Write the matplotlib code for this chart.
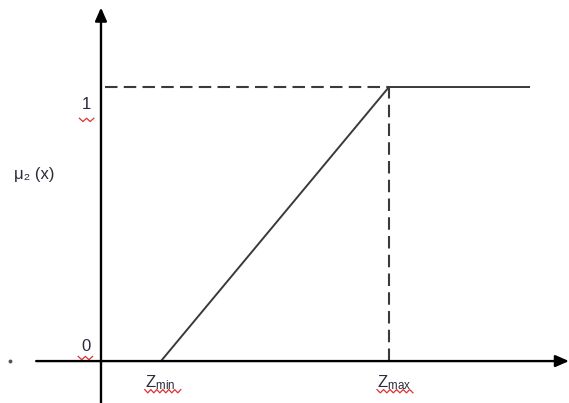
import numpy as np
import matplotlib
matplotlib.use("Agg")
import matplotlib.pyplot as plt

# membership function mu_2(x): ramp from z_min to z_max, then flat at 1
z_points = [1.0, 4.8, 7.15]
mu_points = [0.0, 1.0, 1.0]
z_labels = ["min", "max"]
y_ticks = [0, 1]

plt.rcParams["font.family"] = ["Liberation Sans", "DejaVu Sans"]

fig = plt.figure(figsize=(5.69, 4.03), dpi=100)
ax = fig.add_axes([0, 0, 1, 1])
ax.set_xlim(-1.683, 7.8)
ax.set_ylim(-0.153, 1.3175)
ax.axis("off")

axis_col = "#3a3a3a"
arrow = dict(arrowstyle="-|>,head_length=0.8,head_width=0.35", color="black",
             lw=1.7, shrinkA=0, shrinkB=0)
# axes with arrows
ax.annotate("", xy=(7.8, 0), xytext=(-1.08, 0), arrowprops=arrow)
ax.annotate("", xy=(0, 1.29), xytext=(0, -0.16), arrowprops=arrow)

z_min, z_max, z_end = z_points
# dashed guides
ax.plot([0.07, z_max], [1, 1], ls=(0, (6, 3)), color=axis_col, lw=1.5)
ax.plot([z_max, z_max], [0, 1], ls=(0, (6, 3)), color=axis_col, lw=1.5)
# membership curve
ax.plot(z_points, mu_points, color=axis_col, lw=1.4, solid_capstyle="butt")

txt = dict(color="#2b2b3a", fontsize=12)


def squiggle(x0, x1, y):
    xs = np.linspace(x0, x1, int((x1 - x0) / 0.05) + 1)
    ys = y + np.where(np.arange(len(xs)) % 2 == 0, 0.006, -0.006)
    ax.plot(xs, ys, color="#e03030", lw=0.9)


# tick labels 0 / 1
ax.text(-0.25, 0.935, str(y_ticks[1]), ha="center", va="center", **txt)
squiggle(-0.36, -0.12, 0.88)
ax.text(-0.25, 0.052, str(y_ticks[0]), ha="center", va="center", **txt)
squiggle(-0.38, -0.14, 0.011)

ax.text(-1.45, 0.68, "μ₂ (x)", ha="left", va="center", **txt)
ax.plot([-1.52], [0], marker="o", ms=1.8, color="#555555")

for z, lab, off in zip([z_min, z_max], z_labels, [-0.27, -0.2]):
    ax.text(z + off, -0.08, r"$\mathregular{Z_{%s}}$" % lab, ha="left",
            va="center", **txt)
    squiggle(z + off, z + off + 0.6, -0.11)

fig.savefig("out.png", dpi=100)
